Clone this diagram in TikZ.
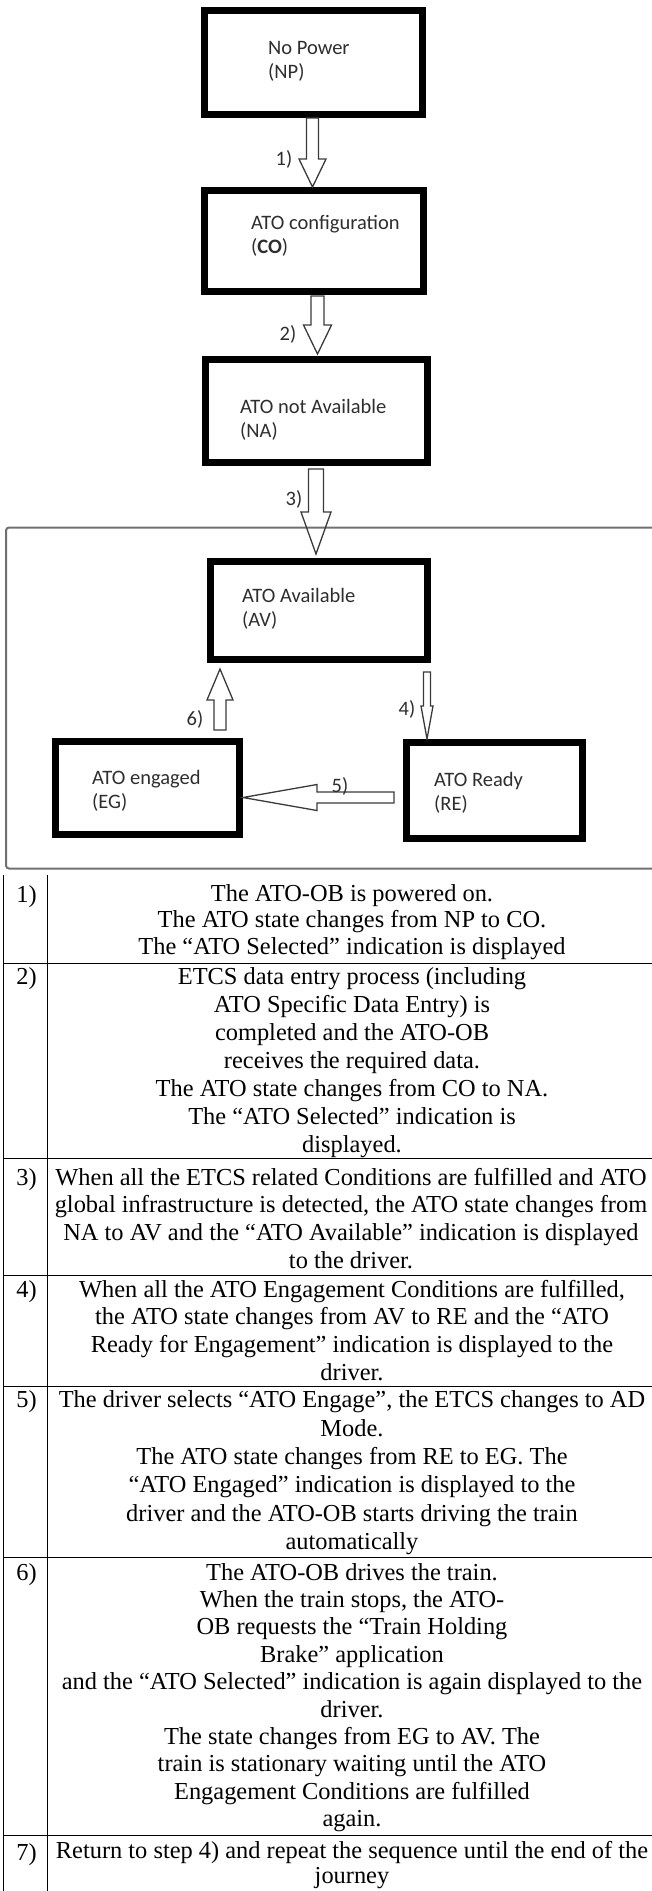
\documentclass[tikz,border=0pt]{standalone}
\usepackage{fontspec}
\setmainfont{Liberation Serif}
\newfontfamily\calibrifont{Carlito}
\usetikzlibrary{calc}
\definecolor{boxtext}{HTML}{2E2E2E}
\definecolor{arrowgray}{HTML}{3A3A3A}
\definecolor{framegray}{HTML}{707070}
\tikzset{
 statebox/.style={draw=black, line width=7pt, inner sep=0pt, outer sep=3.5pt, rectangle},
 statetext/.style={anchor=north west, inner sep=0pt, align=left, text=boxtext, font=\calibrifont\fontsize{20.5}{24}\selectfont},
 steplabel/.style={anchor=base, inner sep=0pt, text=boxtext, font=\calibrifont\fontsize{20.5}{24}\selectfont},
 arrowline/.style={draw=arrowgray, line width=1.3pt, line join=miter},
 rowtext/.style={anchor=north, inner sep=0pt, align=center, text=black},
 rownum/.style={anchor=base, inner sep=0pt, font=\fontsize{24.4}{27.7}\selectfont},
 tableline/.style={draw=black, line width=1pt},
 framestyle/.style={draw=framegray, line width=2pt, rounded corners=3pt},
}
\newcommand\blockarrow[5]{%
  \path[arrowline] let \p1=(#1), \p2=(#2),
    \n1={atan2(\y2-\y1,\x2-\x1)}, \n2={veclen(\x2-\x1,\y2-\y1)} in
    [shift={(\p1)}, rotate=\n1]
    (0,#3) -- ({\n2-#5},#3) -- ({\n2-#5},#4) -- ({\n2},0) -- ({\n2-#5},-#4) -- ({\n2-#5},-#3) -- (0,-#3) -- cycle;}
\begin{document}
\begin{tikzpicture}[x=1pt, y=-1pt]
\useasboundingbox (0,0) rectangle (652,1891);
% frame
\draw[framestyle] (670,527.5) -- (6,527.5) -- (6,868.5) -- (670,868.5);
% state boxes
\node[statebox, minimum width=218pt, minimum height=104pt] (np) at (313.5,62.5) {};
\node[statebox, minimum width=219pt, minimum height=101pt] (co) at (314,241) {};
\node[statebox, minimum width=222pt, minimum height=103pt] (na) at (316.5,411) {};
\node[statebox, minimum width=217pt, minimum height=98pt] (av) at (319,610.5) {};
\node[statebox, minimum width=184pt, minimum height=93pt] (eg) at (147.5,788) {};
\node[statebox, minimum width=176pt, minimum height=96pt] (re) at (494.5,790.5) {};
% state texts
\node[statetext] (npt) at (268,37.2) {\strut No Power\\(NP)};
\node[statetext] (cot) at (251,212.2) {\strut ATO configuration\\(\textbf{CO})};
\node[statetext] (nat) at (240,396.2) {\strut ATO not Available\\(NA)};
\node[statetext] (avt) at (242,585.2) {\strut ATO Available\\(AV)};
\node[statetext] (egt) at (92,767.2) {\strut ATO engaged\\(EG)};
\node[statetext] (ret) at (434,769.2) {\strut ATO Ready\\(RE)};
% arrows
\coordinate (a1s) at ($(np.south)+(-1,0)$);
\coordinate (a1e) at (a1s |- co.north);
\coordinate (a2s) at ($(co.south)+(3.5,1)$);
\coordinate (a2e) at ($(a2s |- na.north)+(0,-2)$);
\coordinate (a3s) at ($(na.south)+(-0.5,3)$);
\coordinate (a3e) at ($(a3s |- av.north)+(0,-4)$);
\coordinate (a4s) at ($(av.south)+(108,9)$);
\coordinate (a4e) at (a4s |- re.north);
\coordinate (a5s) at ($(re.west)+(-9,7)$);
\coordinate (a5e) at (eg.east |- a5s);
\coordinate (a6s) at ($(eg.north)+(72.5,-8)$);
\coordinate (a6e) at ($(a6s |- av.south)+(0,6)$);
\blockarrow{a1s}{a1e}{6}{13.5}{28}
\blockarrow{a2s}{a2e}{6.5}{14}{29}
\blockarrow{a3s}{a3e}{7.5}{15}{42}
\blockarrow{a4s}{a4e}{3.5}{6}{33}
\blockarrow{a5s}{a5e}{5.5}{13}{74}
\blockarrow{a6s}{a6e}{6}{13}{31}
% arrow labels
\node[steplabel] (l1) at (284,165) {1)};
\node[steplabel] (l2) at (288,340) {2)};
\node[steplabel] (l3) at (294,505) {3)};
\node[steplabel] (l4) at (407,715) {4)};
\node[steplabel] (l5) at (340,792) {5)};
\node[steplabel] (l6) at (195,725) {6)};
% table
\draw[tableline] (3,875) -- (3,1891);
\draw[tableline] (47.5,875) -- (47.5,1891);
\foreach \yy in {963,1158,1275,1386,1557,1835} {\draw[tableline] (3,\yy) -- (652,\yy);}
\node[rownum] (n1) at (26.5,902) {1)};
\node[rownum] (n2) at (26.5,984) {2)};
\node[rownum] (n3) at (26.5,1185) {3)};
\node[rownum] (n4) at (26.5,1297) {4)};
\node[rownum] (n5) at (26.5,1407) {5)};
\node[rownum] (n6) at (26.5,1580) {6)};
\node[rownum] (n7) at (26.5,1860) {7)};
\node[rowtext, font=\fontsize{24.4}{26.5}\selectfont] (r1) at (352,882.6) {\strut The ATO-OB is powered on.\\The ATO state changes from NP to CO.\\The “ATO Selected” indication is displayed};
\node[rowtext, font=\fontsize{24.4}{28}\selectfont] (r2) at (352,964.6) {\strut ETCS data entry process (including\\ATO Specific Data Entry) is\\completed and the ATO-OB\\receives the required data.\\The ATO state changes from CO to NA.\\The “ATO Selected” indication is\\displayed.};
\node[rowtext, font=\fontsize{24.4}{27.7}\selectfont] (r3) at (351,1165.6) {\strut When all the ETCS related Conditions are fulfilled and ATO\\global infrastructure is detected, the ATO state changes from\\NA to AV and the “ATO Available” indication is displayed\\to the driver.};
\node[rowtext, font=\fontsize{24.4}{27.7}\selectfont] (r4) at (352,1277.6) {\strut When all the ATO Engagement Conditions are fulfilled,\\the ATO state changes from AV to RE and the “ATO\\Ready for Engagement” indication is displayed to the\\driver.};
\node[rowtext, font=\fontsize{24.4}{28.4}\selectfont] (r5) at (352,1387.6) {\strut The driver selects “ATO Engage”, the ETCS changes to AD\\Mode.\\The ATO state changes from RE to EG. The\\“ATO Engaged” indication is displayed to the\\driver and the ATO-OB starts driving the train\\automatically};
\node[rowtext, font=\fontsize{24.4}{27.4}\selectfont] (r6) at (352,1560.6) {\strut The ATO-OB drives the train.\\When the train stops, the ATO-\\OB requests the “Train Holding\\Brake” application\\and the “ATO Selected” indication is again displayed to the\\driver.\\The state changes from EG to AV. The\\train is stationary waiting until the ATO\\Engagement Conditions are fulfilled\\again.};
\node[rowtext, font=\fontsize{24.4}{25}\selectfont] (r7) at (352,1840.6) {\strut Return to step 4) and repeat the sequence until the end of the\\journey};
\end{tikzpicture}
\end{document}
